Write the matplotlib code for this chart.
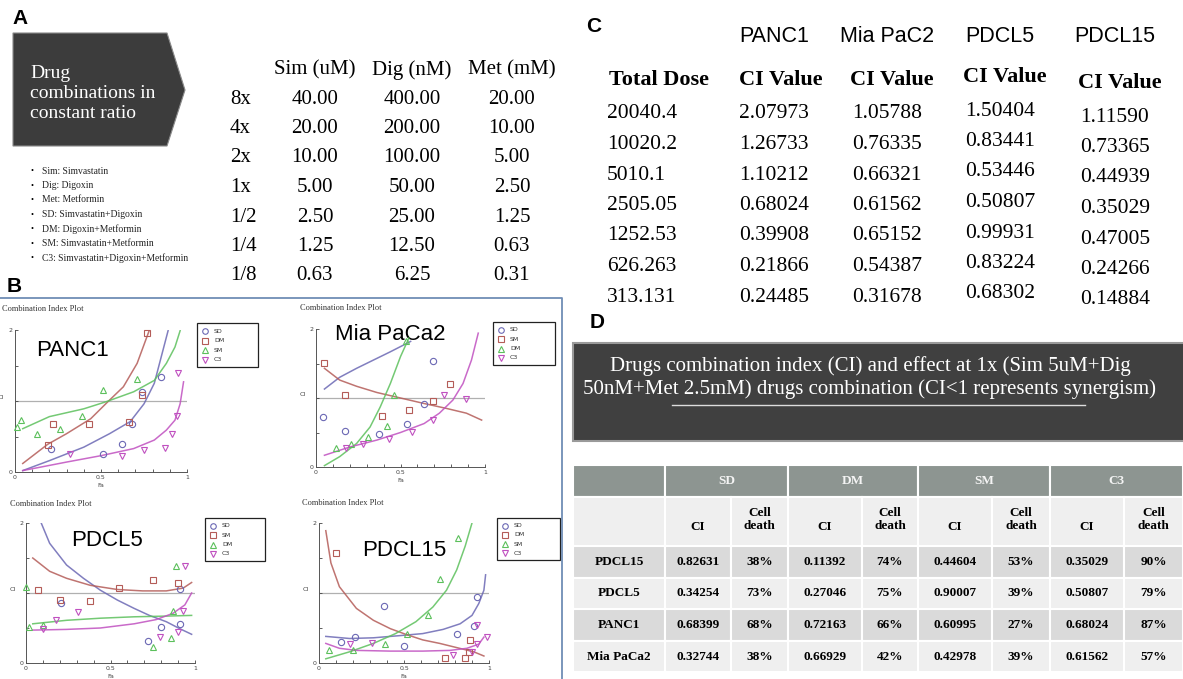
import matplotlib
matplotlib.use('Agg')
import matplotlib.pyplot as plt
from matplotlib.patches import Polygon, Rectangle

W, H = 1183, 679
SERIF = 'Liberation Serif'
SANS = 'Liberation Sans'

# ---------------- panel A data
dose_steps = ['8x', '4x', '2x', '1x', '1/2', '1/4', '1/8']
sim_um = [40.00, 20.00, 10.00, 5.00, 2.50, 1.25, 0.63]
dig_nm = [400.00, 200.00, 100.00, 50.00, 25.00, 12.50, 6.25]
met_mm = [20.00, 10.00, 5.00, 2.50, 1.25, 0.63, 0.31]
drug_cols = ['Sim (uM)', 'Dig (nM)', 'Met (mM)']
abbrev = ['Sim: Simvastatin', 'Dig: Digoxin', 'Met: Metformin',
          'SD: Simvastatin+Digoxin', 'DM: Digoxin+Metformin',
          'SM: Simvastatin+Metformin', 'C3: Simvastatin+Digoxin+Metformin']

# ---------------- panel B data (Fa, CI)
panc1_sd_pts = [(0.21, 0.32), (0.51, 0.25), (0.62, 0.39), (0.68, 0.67), (0.74, 1.12), (0.85, 1.34)]
panc1_dm_pts = [(0.19, 0.38), (0.22, 0.67), (0.43, 0.67), (0.66, 0.71), (0.74, 1.09), (0.77, 1.96)]
panc1_sm_pts = [(0.01, 0.63), (0.035, 0.73), (0.13, 0.53), (0.26, 0.60), (0.39, 0.79), (0.51, 1.16), (0.71, 1.31)]
panc1_c3_pts = [(0.32, 0.25), (0.62, 0.23), (0.75, 0.31), (0.87, 0.34), (0.91, 0.53), (0.94, 0.79), (0.95, 1.40)]
panc1_sd_fit = [(0.045, 0.02), (0.20, 0.16), (0.40, 0.35), (0.55, 0.54), (0.67, 0.71), (0.75, 0.96), (0.81, 1.25), (0.85, 1.62), (0.89, 1.99)]
panc1_dm_fit = [(0.045, 0.12), (0.19, 0.39), (0.30, 0.54), (0.44, 0.75), (0.54, 0.99), (0.63, 1.20), (0.71, 1.53), (0.78, 1.99)]
panc1_sm_fit = [(0.045, 0.61), (0.20, 0.78), (0.40, 0.89), (0.53, 0.99), (0.69, 1.13), (0.81, 1.29), (0.88, 1.53), (0.93, 1.76), (0.96, 1.99)]
panc1_c3_fit = [(0.045, 0.02), (0.30, 0.14), (0.50, 0.23), (0.69, 0.33), (0.81, 0.45), (0.88, 0.59), (0.93, 0.73), (0.96, 0.96), (0.98, 1.27)]

mia_sd_pts = [(0.04, 0.72), (0.17, 0.52), (0.37, 0.48), (0.54, 0.62), (0.64, 0.92), (0.69, 1.54)]
mia_sm_pts = [(0.05, 1.51), (0.17, 1.04), (0.39, 0.74), (0.55, 0.82), (0.69, 0.96), (0.79, 1.20)]
mia_dm_pts = [(0.12, 0.28), (0.21, 0.33), (0.31, 0.44), (0.42, 0.59), (0.46, 1.05), (0.53, 1.82)]
mia_c3_pts = [(0.18, 0.28), (0.28, 0.34), (0.43, 0.40), (0.57, 0.51), (0.69, 0.68), (0.76, 1.04), (0.89, 0.99)]
mia_sd_fit = [(0.05, 1.13), (0.14, 1.30), (0.24, 1.43), (0.34, 1.55), (0.44, 1.67), (0.56, 1.82)]
mia_sm_fit = [(0.05, 1.43), (0.14, 1.26), (0.24, 1.17), (0.36, 1.08), (0.50, 1.00), (0.64, 0.92), (0.77, 0.85), (0.89, 0.78), (0.98, 0.68)]
mia_dm_fit = [(0.05, 0.02), (0.14, 0.15), (0.24, 0.34), (0.32, 0.58), (0.38, 0.87), (0.44, 1.21), (0.50, 1.60), (0.55, 1.87)]
mia_c3_fit = [(0.05, 0.17), (0.20, 0.29), (0.36, 0.39), (0.50, 0.50), (0.64, 0.63), (0.73, 0.78), (0.81, 0.97), (0.87, 1.21), (0.92, 1.55), (0.96, 1.94)]

pdcl5_sd_pts = [(0.21, 0.86), (0.72, 0.32), (0.80, 0.51), (0.91, 0.56), (0.91, 1.06)]
pdcl5_sm_pts = [(0.07, 1.05), (0.20, 0.90), (0.38, 0.88), (0.55, 1.07), (0.75, 1.18), (0.90, 1.15)]
pdcl5_dm_pts = [(0.0, 1.09), (0.02, 0.51), (0.10, 0.54), (0.75, 0.23), (0.86, 0.36), (0.87, 0.75), (0.89, 1.39)]
pdcl5_c3_pts = [(0.10, 0.48), (0.18, 0.61), (0.31, 0.73), (0.79, 0.37), (0.90, 0.44), (0.93, 0.75), (0.94, 1.38)]
pdcl5_sd_fit = [(0.09, 2.0), (0.14, 1.71), (0.24, 1.40), (0.34, 1.21), (0.44, 1.04), (0.54, 0.90), (0.64, 0.78), (0.73, 0.68), (0.83, 0.59), (0.91, 0.49), (0.98, 0.41)]
pdcl5_sm_fit = [(0.04, 1.50), (0.14, 1.31), (0.24, 1.21), (0.38, 1.11), (0.54, 1.05), (0.69, 1.03), (0.83, 1.03), (0.93, 1.07), (0.98, 1.15)]
pdcl5_dm_fit = [(0.04, 0.56), (0.24, 0.61), (0.44, 0.64), (0.64, 0.66), (0.83, 0.67), (0.98, 0.68)]
pdcl5_c3_fit = [(0.04, 0.47), (0.24, 0.48), (0.44, 0.50), (0.64, 0.56), (0.77, 0.62), (0.87, 0.71), (0.94, 0.83), (0.98, 1.00)]

pdcl15_sd_pts = [(0.13, 0.30), (0.21, 0.37), (0.38, 0.81), (0.50, 0.25), (0.81, 0.42), (0.91, 0.53), (0.93, 0.95)]
pdcl15_dm_pts = [(0.10, 1.57), (0.74, 0.07), (0.86, 0.07), (0.89, 0.33), (0.88, 0.16)]
pdcl15_sm_pts = [(0.06, 0.18), (0.20, 0.19), (0.39, 0.27), (0.52, 0.42), (0.64, 0.68), (0.71, 1.20), (0.82, 1.78)]
pdcl15_c3_pts = [(0.18, 0.27), (0.31, 0.29), (0.79, 0.12), (0.90, 0.16), (0.93, 0.27), (0.93, 0.54), (0.99, 0.37)]
pdcl15_sd_fit = [(0.04, 0.38), (0.18, 0.35), (0.32, 0.36), (0.47, 0.39), (0.61, 0.42), (0.73, 0.48), (0.83, 0.56), (0.90, 0.68), (0.94, 0.85), (0.97, 1.04), (0.98, 1.26)]
pdcl15_dm_fit = [(0.04, 1.89), (0.07, 1.43), (0.12, 1.09), (0.22, 0.78), (0.32, 0.61), (0.42, 0.49), (0.51, 0.41), (0.61, 0.33), (0.71, 0.28), (0.81, 0.22), (0.91, 0.16), (0.97, 0.10)]
pdcl15_sm_fit = [(0.04, 0.06), (0.18, 0.16), (0.32, 0.28), (0.45, 0.42), (0.57, 0.59), (0.67, 0.80), (0.75, 1.04), (0.81, 1.33), (0.86, 1.67), (0.90, 2.00)]
pdcl15_c3_fit = [(0.04, 0.28), (0.12, 0.21), (0.22, 0.18), (0.42, 0.17), (0.61, 0.17), (0.77, 0.18), (0.87, 0.21), (0.94, 0.27), (0.97, 0.37)]

# ---------------- panel C data
cell_lines_c = ['PANC1', 'Mia PaC2', 'PDCL5', 'PDCL15']
total_dose = [20040.4, 10020.2, 5010.1, 2505.05, 1252.53, 626.263, 313.131]
ci_panc1 = [2.07973, 1.26733, 1.10212, 0.68024, 0.39908, 0.21866, 0.24485]
ci_mia = [1.05788, 0.76335, 0.66321, 0.61562, 0.65152, 0.54387, 0.31678]
ci_pdcl5 = [1.50404, 0.83441, 0.53446, 0.50807, 0.99931, 0.83224, 0.68302]
ci_pdcl15 = [1.11590, 0.73365, 0.44939, 0.35029, 0.47005, 0.24266, 0.14884]

# ---------------- panel D data
combos = ['SD', 'DM', 'SM', 'C3']
cell_lines_d = ['PDCL15', 'PDCL5', 'PANC1', 'Mia PaCa2']
ci_sd = [0.82631, 0.34254, 0.68399, 0.32744]
death_sd = [38, 73, 68, 38]
ci_dm = [0.11392, 0.27046, 0.72163, 0.66929]
death_dm = [74, 75, 66, 42]
ci_sm = [0.44604, 0.90007, 0.60995, 0.42978]
death_sm = [53, 39, 27, 39]
ci_c3 = [0.35029, 0.50807, 0.68024, 0.61562]
death_c3 = [90, 79, 87, 57]

C_SD, C_RED, C_GRN, C_MAG = '#6b68b4', '#b45c58', '#5cc05c', '#c050c0'

fig = plt.figure(figsize=(W / 100, H / 100), dpi=100)
bg = fig.add_axes([0, 0, 1, 1])
bg.set_xlim(0, W)
bg.set_ylim(H, 0)
bg.axis('off')


def add_ax(x0, y0, x1, y1):
    return fig.add_axes([x0 / W, 1 - y1 / H, (x1 - x0) / W, (y1 - y0) / H])


# panel letters
for lt, x, y in [('A', 20, 19), ('B', 14, 287), ('C', 594, 26), ('D', 597, 323)]:
    bg.text(x, y, lt, fontsize=15, fontweight='bold', family=SANS, ha='center', va='center')

# ---------------- A
bg.add_patch(Polygon([(13, 33), (167, 33), (185, 90), (167, 146), (13, 146)],
                     closed=True, facecolor='#3c3c3c', edgecolor='#8a8a8a', lw=0.8))
arrow_lines = ['Drug', 'combinations in', 'constant ratio']
for i, s in enumerate(arrow_lines):
    bg.text(30, 73 + i * 20, s, color='white', family=SERIF, fontsize=14, ha='left', va='center')
for i, s in enumerate(abbrev):
    y = 171 + i * 14.5
    bg.text(32, y, '\u2022', fontsize=6, family=SERIF, ha='center', va='center')
    bg.text(42, y, s, fontsize=6.9, family=SERIF, ha='left', va='center', color='#222222')

col_x = [315, 412, 512]
for cx, name in zip(col_x, drug_cols):
    bg.text(cx, 70, name, fontsize=15, family=SERIF, ha='center', va='center')
for i, step in enumerate(dose_steps):
    y = 99 + i * 29.5
    bg.text(230, y, step, fontsize=15, family=SERIF, ha='left', va='center')
    for cx, vals in zip(col_x, [sim_um, dig_nm, met_mm]):
        bg.text(cx, y, f'{vals[i]:.2f}', fontsize=15, family=SERIF, ha='center', va='center')

# ---------------- B frame
bg.plot([0, 562, 562], [298, 298, H], color='#6f8db5', lw=1.3)


def ci_plot(box, series, title_xy, name, name_xy, leg_box):
    ax = add_ax(*box)
    ax.set_facecolor('none')
    ax.set_xlim(0, 1)
    ax.set_ylim(0, 2)
    for sp in ['top', 'right']:
        ax.spines[sp].set_visible(False)
    for sp in ['left', 'bottom']:
        ax.spines[sp].set_color('#555555')
        ax.spines[sp].set_linewidth(0.7)
    ax.axhline(1, color='#b0b0b0', lw=0.9, zorder=1)
    xt = [i / 10 for i in range(11)]
    ax.set_xticks(xt)
    ax.set_xticklabels(['0' if v == 0 else '0.5' if abs(v - 0.5) < 1e-9 else '1' if v == 1 else '' for v in xt])
    ax.set_yticks([0, 0.5, 1, 1.5, 2])
    ax.set_yticklabels(['0', '', '', '', '2'])
    ax.tick_params(direction='in', length=2.5, width=0.6, labelsize=4.5, colors='#444444', pad=2)
    ax.text(-0.08, 1.05, 'CI', fontsize=4.5, ha='center', va='center', color='#444444')
    ax.text(0.5, -0.19, 'Fa', fontsize=4.5, ha='center', va='center', color='#444444', clip_on=False)
    for label, marker, color, pts, fit in series:
        ax.plot([p[0] for p in fit], [p[1] for p in fit], color=color, lw=1.1, alpha=0.85, zorder=2)
        ax.plot([p[0] for p in pts], [p[1] for p in pts], ls='none', marker=marker, ms=4.5,
                mfc='none', mec=color, mew=0.8, clip_on=False, zorder=3)
    bg.text(title_xy[0], title_xy[1], 'Combination Index Plot', fontsize=6, family=SERIF,
            ha='left', va='center', color='#333333')
    bg.text(name_xy[0], name_xy[1], name, fontsize=16, family=SANS, ha='center', va='center')
    lx0, ly0, lx1, ly1 = leg_box
    bg.add_patch(Rectangle((lx0, ly0), lx1 - lx0, ly1 - ly0, facecolor='white', edgecolor='#222222', lw=0.9))
    step = (ly1 - ly0) / 4.6
    for k, (label, marker, color, pts, fit) in enumerate(series):
        yy = ly0 + step * (0.85 + k)
        bg.plot([lx0 + 8], [yy], marker=marker, ms=4, mfc='none', mec=color, mew=0.8)
        bg.text(lx0 + 17, yy, label, fontsize=4.5, ha='left', va='center', color='#333333')


ci_plot((15, 330, 187, 472),
        [('SD', 'o', C_SD, panc1_sd_pts, panc1_sd_fit),
         ('DM', 's', C_RED, panc1_dm_pts, panc1_dm_fit),
         ('SM', '^', C_GRN, panc1_sm_pts, panc1_sm_fit),
         ('C3', 'v', C_MAG, panc1_c3_pts, panc1_c3_fit)],
        (2, 309), 'PANC1', (73, 350), (197, 323, 258, 367))
ci_plot((316, 329, 485, 467),
        [('SD', 'o', C_SD, mia_sd_pts, mia_sd_fit),
         ('SM', 's', C_RED, mia_sm_pts, mia_sm_fit),
         ('DM', '^', C_GRN, mia_dm_pts, mia_dm_fit),
         ('C3', 'v', C_MAG, mia_c3_pts, mia_c3_fit)],
        (300, 308), 'Mia PaCa2', (390, 335), (493, 322, 555, 365))
ci_plot((26, 523, 195, 663),
        [('SD', 'o', C_SD, pdcl5_sd_pts, pdcl5_sd_fit),
         ('SM', 's', C_RED, pdcl5_sm_pts, pdcl5_sm_fit),
         ('DM', '^', C_GRN, pdcl5_dm_pts, pdcl5_dm_fit),
         ('C3', 'v', C_MAG, pdcl5_c3_pts, pdcl5_c3_fit)],
        (10, 504), 'PDCL5', (107, 540), (205, 518, 265, 561))
ci_plot((319, 523, 489, 663),
        [('SD', 'o', C_SD, pdcl15_sd_pts, pdcl15_sd_fit),
         ('DM', 's', C_RED, pdcl15_dm_pts, pdcl15_dm_fit),
         ('SM', '^', C_GRN, pdcl15_sm_pts, pdcl15_sm_fit),
         ('C3', 'v', C_MAG, pdcl15_c3_pts, pdcl15_c3_fit)],
        (302, 503), 'PDCL15', (404, 550), (497, 518, 560, 560))

# ---------------- C
c_cols = [774, 887, 1000, 1115]
c_ci_x = [781, 892, 1005, 1120]
c_dy = [0, 0, -3, 3]
for cx, name in zip(c_cols, cell_lines_c):
    bg.text(cx, 37, name, fontsize=15.5, family=SANS, ha='center', va='center')
bg.text(609, 80, 'Total Dose', fontsize=16, family=SERIF, fontweight='bold', ha='left', va='center')
for cx, dy in zip(c_ci_x, c_dy):
    bg.text(cx, 80 + dy, 'CI Value', fontsize=16, family=SERIF, fontweight='bold', ha='center', va='center')
for i, dose in enumerate(total_dose):
    y = 114 + i * 30.5
    bg.text(607, y, f'{dose:g}', fontsize=15.5, family=SERIF, ha='left', va='center')
    for cx, dy, vals in zip(c_cols, c_dy, [ci_panc1, ci_mia, ci_pdcl5, ci_pdcl15]):
        bg.text(cx, y + dy, f'{vals[i]:.5f}', fontsize=15.5, family=SERIF, ha='center', va='center')

# ---------------- D banner
bg.add_patch(Rectangle((573, 343), 612, 98, facecolor='#404040', edgecolor='#9a9a9a', lw=1.5))
banner_lines = ['Drugs combination index (CI) and effect at 1x (Sim 5uM+Dig',
                '50nM+Met 2.5mM) drugs combination (CI<1 represents synergism)']
for i, s in enumerate(banner_lines):
    bg.text(870, 366 + i * 23, s, color='white', fontsize=15, family=SERIF, ha='center', va='center')
bg.plot([672, 1085], [405, 405], color='#dddddd', lw=1.0)

# ---------------- D table
xs = [573, 665, 731, 788, 862, 918, 992, 1050, 1124, 1183]
ys = [465, 497, 546, 578, 609, 641, 672]
HDR = '#8d9591'
tfont = dict(family=SERIF, fontweight='bold', fontsize=9.5, ha='center', va='center')
bg.add_patch(Rectangle((xs[0], ys[0]), xs[1] - xs[0], ys[1] - ys[0], facecolor=HDR, edgecolor='white', lw=1.5))
for j, name in enumerate(combos):
    x0, x1 = xs[1 + 2 * j], xs[3 + 2 * j]
    bg.add_patch(Rectangle((x0, ys[0]), x1 - x0, ys[1] - ys[0], facecolor=HDR, edgecolor='white', lw=1.5))
    bg.text((x0 + x1) / 2, (ys[0] + ys[1]) / 2, name, color='#f4f4f4', **tfont)
for c in range(9):
    bg.add_patch(Rectangle((xs[c], ys[1]), xs[c + 1] - xs[c], ys[2] - ys[1], facecolor='#efefef', edgecolor='white', lw=1.5))
    if c > 0:
        txt = 'CI' if c % 2 == 1 else 'Cell\ndeath'
        ty = (ys[1] + ys[2]) / 2 + (6 if c % 2 == 1 else -2)
        bg.text((xs[c] + xs[c + 1]) / 2, ty, txt, linespacing=1.05, **tfont)
ci_all = [ci_sd, ci_dm, ci_sm, ci_c3]
death_all = [death_sd, death_dm, death_sm, death_c3]
for r, line in enumerate(cell_lines_d):
    y0, y1 = ys[2 + r], ys[3 + r]
    fc = '#dadada' if r % 2 == 0 else '#efefef'
    for c in range(9):
        bg.add_patch(Rectangle((xs[c], y0), xs[c + 1] - xs[c], y1 - y0, facecolor=fc, edgecolor='white', lw=1.5))
    ym = (y0 + y1) / 2
    bg.text((xs[0] + xs[1]) / 2, ym, line, **tfont)
    for j in range(4):
        bg.text((xs[1 + 2 * j] + xs[2 + 2 * j]) / 2, ym, f'{ci_all[j][r]:.5f}', **tfont)
        bg.text((xs[2 + 2 * j] + xs[3 + 2 * j]) / 2, ym, f'{death_all[j][r]}%', **tfont)

fig.savefig('out.png', dpi=100)
